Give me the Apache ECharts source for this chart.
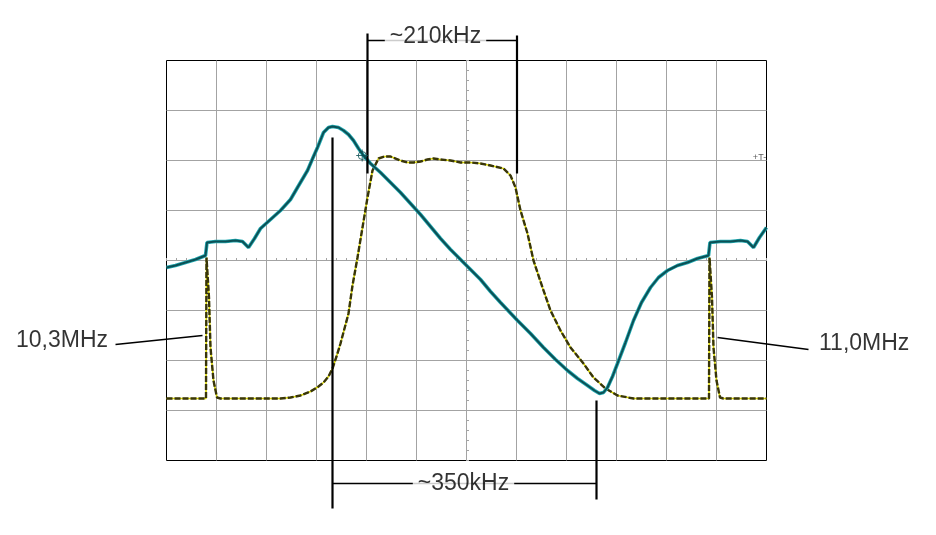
<!DOCTYPE html>
<html><head><meta charset="utf-8">
<script src="https://cdn.jsdelivr.net/npm/echarts@6/dist/echarts.min.js"></script>
<style>html,body{margin:0;padding:0;background:#fff}#c{width:936px;height:535px}</style>
</head><body><div id="c"></div>
<script>
// All values in screen divisions (x: -6..6, y: -4..4)
const tealTrace = [
 [-6.00,-0.14],[-5.82,-0.10],[-5.62,-0.04],[-5.42,0.02],[-5.22,0.10],[-5.19,0.36],[-5.02,0.38],[-4.82,0.38],
 [-4.62,0.40],[-4.48,0.38],[-4.36,0.26],[-4.24,0.44],[-4.12,0.64],[-3.92,0.82],[-3.72,1.00],[-3.52,1.22],
 [-3.38,1.46],[-3.18,1.80],[-3.06,2.08],[-2.98,2.26],[-2.86,2.56],[-2.76,2.66],[-2.68,2.68],[-2.56,2.66],
 [-2.46,2.60],[-2.36,2.52],[-2.26,2.40],[-2.16,2.24],[-2.06,2.10],[-1.92,1.94],[-1.72,1.76],[-1.52,1.56],
 [-1.32,1.36],[-1.12,1.14],[-0.92,0.92],[-0.72,0.68],[-0.52,0.44],[-0.32,0.22],[-0.12,0.02],[0.08,-0.18],
 [0.28,-0.38],[0.48,-0.62],[0.68,-0.84],[1.02,-1.20],[1.28,-1.46],[1.54,-1.74],[1.78,-1.98],[2.02,-2.20],
 [2.22,-2.36],[2.42,-2.50],[2.56,-2.60],[2.66,-2.66],[2.74,-2.64],[2.82,-2.54],[2.92,-2.32],[3.02,-2.06],
 [3.18,-1.64],[3.34,-1.20],[3.50,-0.84],[3.68,-0.54],[3.84,-0.34],[4.02,-0.20],[4.22,-0.10],[4.42,-0.04],
 [4.62,0.04],[4.84,0.10],[4.87,0.36],[5.08,0.38],[5.28,0.38],[5.48,0.40],[5.62,0.38],[5.74,0.26],
 [5.86,0.46],[6.00,0.66]
];
const yellowTrace = [
 [-6.00,-2.76],[-5.62,-2.76],[-5.21,-2.76],[-5.20,0.06],[-5.18,0.10],[-5.15,-0.74],[-5.12,-1.74],[-5.06,-2.40],
 [-4.99,-2.74],[-4.92,-2.76],[-4.32,-2.76],[-3.72,-2.76],[-3.52,-2.74],[-3.32,-2.70],[-3.12,-2.62],[-2.96,-2.52],
 [-2.86,-2.44],[-2.76,-2.32],[-2.68,-2.16],[-2.60,-1.92],[-2.52,-1.66],[-2.44,-1.36],[-2.36,-1.06],[-2.28,-0.50],
 [-2.18,0.06],[-2.08,0.66],[-1.98,1.26],[-1.88,1.80],[-1.76,2.04],[-1.64,2.08],[-1.52,2.08],[-1.32,2.00],
 [-1.18,1.96],[-1.06,1.96],[-0.92,1.98],[-0.78,2.02],[-0.66,2.04],[-0.52,2.02],[-0.32,2.00],[-0.12,1.96],
 [0.08,1.96],[0.28,1.94],[0.48,1.90],[0.74,1.84],[0.88,1.70],[0.98,1.46],[1.08,1.00],[1.22,0.54],
 [1.34,0.00],[1.52,-0.54],[1.68,-1.00],[1.88,-1.40],[2.08,-1.74],[2.34,-2.06],[2.54,-2.34],[2.78,-2.56],
 [3.02,-2.70],[3.34,-2.76],[3.88,-2.76],[4.48,-2.76],[4.85,-2.76],[4.86,0.06],[4.88,0.10],[4.91,-0.74],
 [4.94,-1.74],[5.00,-2.40],[5.07,-2.74],[5.14,-2.76],[6.00,-2.76]
];
// annotation segments [x1, y1, x2, y2]
const verticalMarks = [
 [-1.98,4.54,-1.98,1.74],
 [1.01,4.50,1.01,1.74],
 [-2.68,2.46,-2.68,-4.96],
 [2.60,-2.80,2.60,-4.78]
];
const bracketMarks = [
 [-1.98,4.40,1.01,4.40],
 [-2.68,-4.46,2.60,-4.46],
 [-7.02,-1.68,-5.28,-1.50],
 [5.02,-1.54,6.84,-1.78]
];
const annotationTexts = ['~210kHz','~350kHz','10,3MHz','11,0MHz'];
const annotationAnchors = [[-0.62,4.47],[-0.06,-4.47],[-7.16,-1.60],[7.04,-1.66]];
const annotationSides = ['inside','inside','left','right'];
const cursorMark = [[-2.086,2.10]];
const triggerMark = [[5.86,2.06]];

const grey = '#a3a3a3';
function xAx(inside, split){
  return {type:'value',min:-6,max:6,interval:1,
    axisLine:{show:true,onZero:true,onZeroAxisIndex:0,lineStyle:{color:grey,width:1}},
    axisTick:{show:true,inside:inside,length:2.5,lineStyle:{color:grey}},
    minorTick:{show:true,splitNumber:5,length:2.5,lineStyle:{color:grey}},
    axisLabel:{show:false},
    splitLine:{show:split,showMinLine:false,showMaxLine:false,lineStyle:{color:grey,width:1}}};
}
function yAx(inside, split){
  return {type:'value',min:-4,max:4,interval:1,
    axisLine:{show:true,onZero:true,onZeroAxisIndex:0,lineStyle:{color:grey,width:1}},
    axisTick:{show:true,inside:inside,length:2.5,lineStyle:{color:grey}},
    minorTick:{show:true,splitNumber:5,length:2.5,lineStyle:{color:grey}},
    axisLabel:{show:false},
    splitLine:{show:split,showMinLine:false,showMaxLine:false,lineStyle:{color:grey,width:1}}};
}
function segmentSeries(segs, width){
  return {type:'custom',clip:false,z:6,data:segs,encode:{x:[0,2],y:[1,3]},
    renderItem:function(params, api){
      const p1 = api.coord([api.value(0), api.value(1)]);
      const p2 = api.coord([api.value(2), api.value(3)]);
      return {type:'line',shape:{x1:p1[0],y1:p1[1],x2:p2[0],y2:p2[1]},style:{stroke:'#000',lineWidth:width}};
    }};
}
const font = '"Liberation Sans", Arial, sans-serif';
const series = [];
series.push({type:'line',data:yellowTrace,showSymbol:false,symbol:'none',z:2,
  lineStyle:{color:'#d9d600',width:1.6}});
series.push({type:'line',data:yellowTrace,showSymbol:false,symbol:'none',z:3,
  lineStyle:{color:'#38350a',width:2.4,type:[6,2]}});
series.push({type:'line',data:tealTrace,showSymbol:false,symbol:'none',z:4,
  lineStyle:{color:'#22aab2',width:3.6}});
series.push({type:'line',data:tealTrace,showSymbol:false,symbol:'none',z:5,
  lineStyle:{color:'#0c5055',width:2}});
series.push(segmentSeries(verticalMarks, 2.2));
series.push(segmentSeries(bracketMarks, 1.6));
series.push({type:'scatter',clip:false,z:8,symbolSize:1,itemStyle:{color:'transparent'},
  data:annotationTexts.map((t,i)=>({value:annotationAnchors[i],
    label:{show:true,position:annotationSides[i],distance:0,formatter:t,color:'#000',fontSize:23,fontFamily:font,
      backgroundColor:annotationSides[i]==='inside'?'#fff':'transparent',padding:annotationSides[i]==='inside'?[0,5]:0}}))});
series.push({type:'scatter',clip:false,z:7,data:cursorMark,symbolSize:12,
  symbol:'path://M-6,0L6,0M0,-6L0,6M4,0A4,4 0 1,1 -4,0A4,4 0 1,1 4,0Z',
  itemStyle:{color:'transparent',borderColor:'#0c4f54',borderWidth:1}});
series.push({type:'scatter',clip:false,z:7,data:triggerMark,symbolSize:1,itemStyle:{color:'transparent'},
  label:{show:true,position:'inside',formatter:'+T-',fontSize:9,color:'#333',fontFamily:font}});

const chart = echarts.init(document.getElementById('c'),null,{renderer:'canvas'});
chart.setOption({
  animation:false,
  backgroundColor:'#fff',
  grid:{left:166.5,top:60.5,width:600,height:400,show:true,borderColor:'#000',borderWidth:1,backgroundColor:'transparent'},
  xAxis:[xAx(true,true),xAx(false,false)],
  yAxis:[yAx(true,true),yAx(false,false)],
  series:series.map(s=>Object.assign({xAxisIndex:0,yAxisIndex:0,silent:true},s))
});
</script></body></html>
